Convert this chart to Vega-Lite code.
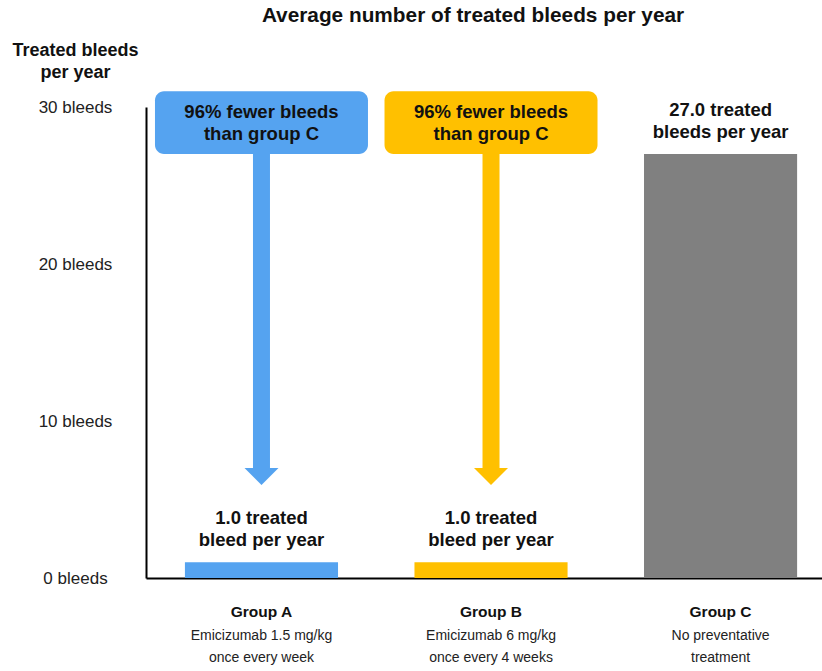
{
  "$schema": "https://vega.github.io/schema/vega-lite/v6.json",
  "width": 676,
  "height": 471,
  "autosize": {"type": "none"},
  "padding": {"left": 146, "top": 107, "right": 0, "bottom": 93},
  "background": "white",
  "config": {"view": {"stroke": null}, "text": {"lineBreak": "\n"}},
  "title": {
    "text": "Average number of treated bleeds per year",
    "font": "Liberation Sans",
    "fontSize": 20.8,
    "fontWeight": "bold",
    "color": "#111111",
    "anchor": "middle",
    "dx": -11,
    "offset": 14
  },
  "data": {
    "values": [
      {"group": "Group A", "value": 1.0, "label": "1.0 treated\nbleed per year", "desc": "Emicizumab 1.5 mg/kg\nonce every week", "callout": "96% fewer bleeds\nthan group C"},
      {"group": "Group B", "value": 1.0, "label": "1.0 treated\nbleed per year", "desc": "Emicizumab 6 mg/kg\nonce every 4 weeks", "callout": "96% fewer bleeds\nthan group C"},
      {"group": "Group C", "value": 27.0, "label": "27.0 treated\nbleeds per year", "desc": "No preventative\ntreatment", "callout": ""}
    ]
  },
  "encoding": {
    "x": {
      "field": "group",
      "type": "nominal",
      "sort": null,
      "scale": {"paddingInner": 0.333, "paddingOuter": 0.139, "align": 0.61, "round": false},
      "axis": {
        "title": null,
        "ticks": false,
        "tickSize": 0,
        "domainColor": "#000000",
        "domainWidth": 2,
        "labelAngle": 0,
        "labelFont": "Liberation Sans",
        "labelFontSize": 15.5,
        "labelFontWeight": "bold",
        "labelColor": "#111111",
        "labelPadding": 26
      }
    },
    "color": {
      "field": "group",
      "type": "nominal",
      "scale": {"domain": ["Group A", "Group B", "Group C"], "range": ["#55A3F0", "#FFC000", "#808080"]},
      "legend": null
    }
  },
  "layer": [
    {
      "mark": {"type": "bar"},
      "encoding": {
        "y": {
          "field": "value",
          "type": "quantitative",
          "scale": {"domain": [0, 30], "nice": false},
          "axis": {
            "values": [0, 10, 20, 30],
            "labelExpr": "datum.value + ' bleeds'",
            "ticks": false,
            "tickSize": 0,
            "grid": false,
            "domainColor": "#000000",
            "domainWidth": 2,
            "labelAlign": "center",
            "labelPadding": 71,
            "labelFont": "Liberation Sans",
            "labelFontSize": 17,
            "labelColor": "#222222",
            "title": ["Treated bleeds", "per year"],
            "titleAngle": 0,
            "titleAlign": "center",
            "titleBaseline": "top",
            "titleX": -71,
            "titleY": -66,
            "titleFont": "Liberation Sans",
            "titleFontSize": 18,
            "titleFontWeight": "bold",
            "titleColor": "#111111",
            "titleLineHeight": 22
          }
        }
      }
    },
    {
      "transform": [{"filter": "datum.group != 'Group C'"}],
      "mark": {"type": "rule", "strokeWidth": 17},
      "encoding": {"y": {"datum": 27}, "y2": {"datum": 7}}
    },
    {
      "transform": [{"filter": "datum.group != 'Group C'"}],
      "mark": {"type": "point", "filled": true, "opacity": 1, "shape": "M-1,-0.5L1,-0.5L0,0.5Z", "size": 1156},
      "encoding": {"y": {"datum": 6.46}}
    },
    {
      "transform": [{"filter": "datum.group != 'Group C'"}],
      "mark": {"type": "bar", "width": 213, "cornerRadius": 9},
      "encoding": {"y": {"datum": 31}, "y2": {"datum": 27}}
    },
    {
      "transform": [{"filter": "datum.group != 'Group C'"}],
      "mark": {"type": "text", "font": "Liberation Sans", "fontSize": 18.5, "fontWeight": "bold", "baseline": "middle", "dy": -11, "lineHeight": 22},
      "encoding": {"y": {"datum": 28.95}, "text": {"field": "callout"}, "color": {"value": "#111111"}}
    },
    {
      "mark": {"type": "text", "font": "Liberation Sans", "fontSize": 18.5, "fontWeight": "bold", "baseline": "bottom", "dy": -34, "lineHeight": 22},
      "encoding": {"y": {"field": "value", "type": "quantitative"}, "text": {"field": "label"}, "color": {"value": "#111111"}}
    },
    {
      "mark": {"type": "text", "font": "Liberation Sans", "fontSize": 14, "baseline": "top", "dy": 51, "lineHeight": 22},
      "encoding": {"y": {"datum": 0}, "text": {"field": "desc"}, "color": {"value": "#222222"}}
    }
  ]
}
